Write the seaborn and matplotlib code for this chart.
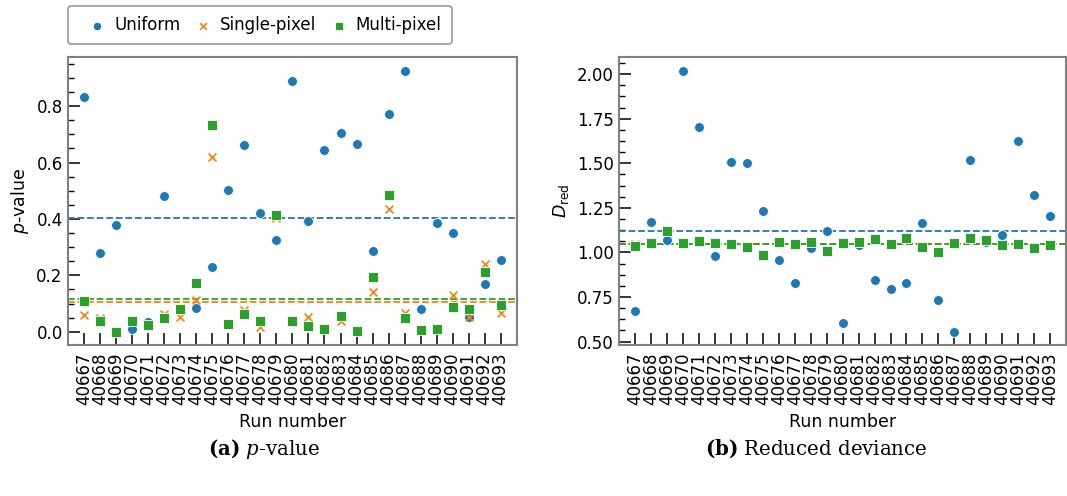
import numpy as np
import pandas as pd
import matplotlib
matplotlib.use("Agg")
import matplotlib.pyplot as plt
import seaborn as sns
from matplotlib.ticker import AutoMinorLocator, MultipleLocator

# Run numbers of the analysed observations
runs = [str(r) for r in range(40667, 40694)]
models = ["Uniform", "Single-pixel", "Multi-pixel"]

# Goodness-of-fit p-values per run
pval_uniform = [0.833, 0.279, 0.379, 0.008, 0.034, 0.481, 0.082, 0.083, 0.228,
                0.504, 0.663, 0.422, 0.325, 0.890, 0.394, 0.643, 0.703, 0.664,
                0.287, 0.773, 0.926, 0.079, 0.387, 0.350, 0.051, 0.169, 0.254]
pval_single = [0.058, 0.047, 0.000, 0.038, 0.024, 0.062, 0.053, 0.112, 0.618,
               0.026, 0.077, 0.016, 0.405, 0.038, 0.053, 0.008, 0.039, 0.004,
               0.140, 0.434, 0.065, 0.006, 0.011, 0.129, 0.051, 0.239, 0.066]
pval_multi = [0.110, 0.038, 0.000, 0.038, 0.024, 0.048, 0.079, 0.173, 0.732,
              0.026, 0.062, 0.038, 0.414, 0.038, 0.021, 0.008, 0.056, 0.004,
              0.194, 0.485, 0.049, 0.006, 0.011, 0.087, 0.079, 0.212, 0.096]

# Reduced deviance per run
dred_uniform = [0.672, 1.171, 1.068, 2.019, 1.702, 0.978, 1.505, 1.504, 1.233,
                0.959, 0.828, 1.026, 1.122, 0.606, 1.040, 0.845, 0.794, 0.828,
                1.163, 0.732, 0.555, 1.516, 1.058, 1.098, 1.627, 1.321, 1.203]
dred_single = [1.045, 1.058, 1.118, 1.055, 1.062, 1.051, 1.047, 1.030, 0.990,
               1.058, 1.047, 1.062, 1.006, 1.055, 1.052, 1.075, 1.049, 1.083,
               1.028, 1.002, 1.051, 1.079, 1.071, 1.039, 1.050, 1.025, 1.047]
dred_multi = [1.038, 1.055, 1.118, 1.055, 1.062, 1.051, 1.045, 1.030, 0.983,
              1.058, 1.047, 1.056, 1.006, 1.055, 1.060, 1.075, 1.049, 1.083,
              1.028, 1.002, 1.051, 1.079, 1.071, 1.039, 1.045, 1.025, 1.042]

frames = []
for name, pv, dr in zip(models,
                        [pval_uniform, pval_single, pval_multi],
                        [dred_uniform, dred_single, dred_multi]):
    frames.append(pd.DataFrame({"idx": np.arange(len(runs)), "run": runs,
                                "model": name, "pvalue": pv, "dred": dr}))
df = pd.concat(frames, ignore_index=True)

sns.set_theme(style="white")
plt.rcParams["font.family"] = ["DejaVu Sans"]
plt.rcParams["mathtext.fontset"] = "dejavusans"
for key in ["text.color", "axes.labelcolor", "xtick.color", "ytick.color"]:
    plt.rcParams[key] = "black"

palette = {"Uniform": "#1f77b4", "Single-pixel": "#ff7f0e", "Multi-pixel": "#2ca02c"}
marks = {"Uniform": "o", "Single-pixel": "x", "Multi-pixel": "s"}
sizes = {"Uniform": 50, "Single-pixel": 32, "Multi-pixel": 46}

fig = plt.figure(figsize=(10.67, 4.96), dpi=100)
ax0 = fig.add_axes([0.0640, 0.3050, 0.4202, 0.5794])
ax1 = fig.add_axes([0.5804, 0.3050, 0.4187, 0.5794])

for ax, col in [(ax0, "pvalue"), (ax1, "dred")]:
    for name in models:
        sub = df[df["model"] == name]
        kw = dict(edgecolor="white", linewidth=0.6) if marks[name] != "x" else dict(linewidth=1.2)
        sns.scatterplot(data=sub, x="idx", y=col, ax=ax, color=palette[name],
                        marker=marks[name], s=sizes[name], label=name,
                        zorder=3, **kw)
        ax.axhline(sub[col].mean(), color=palette[name], ls="--", lw=1.3, zorder=2)
    ax.set_xlim(-1, 27)
    ax.set_xticks(np.arange(len(runs)))
    ax.set_xticklabels(runs, rotation=90)
    ax.set_xlabel("Run number", fontsize=12.5, labelpad=5.5)
    ax.yaxis.set_minor_locator(AutoMinorLocator(4))
    ax.tick_params(axis="both", which="major", direction="in", length=8.6,
                   width=1.1, color="black", labelsize=12, bottom=True, left=True,
                   pad=4)
    ax.tick_params(axis="x", which="major", labelsize=12, pad=5.5)
    ax.tick_params(axis="y", which="minor", direction="in", length=4.6,
                   width=1.0, color="black", left=True)
    for sp in ax.spines.values():
        sp.set_color("#808080")
        sp.set_linewidth(1.5)
    ax.get_legend().remove()

ax0.set_ylim(-0.046, 0.973)
ax0.yaxis.set_major_locator(MultipleLocator(0.2))
ax0.set_ylabel(r"$p$-value", fontsize=12.5)

ax1.set_ylim(0.482, 2.094)
ax1.yaxis.set_major_locator(MultipleLocator(0.25))
ax1.set_ylabel(r"$D_{\mathrm{red}}$", fontsize=12.5)

handles, labels = ax0.get_legend_handles_labels()
leg = fig.legend(handles[:3], labels[:3], loc="upper left",
                 bbox_to_anchor=(68 / 1067, 1 - 6 / 496), ncol=3, fontsize=12,
                 frameon=True, borderaxespad=0, markerscale=0.85,
                 handletextpad=-0.08, columnspacing=0.22, handlelength=2.24,
                 borderpad=0.6)
leg.get_frame().set_edgecolor("#808080")
leg.get_frame().set_linewidth(1.2)

fig.text(264 / 1067, 1 - 449 / 496, r"$\mathbf{(a)}$ $p$-value",
         family="DejaVu Serif", math_fontfamily="dejavuserif", fontsize=14.2,
         ha="center", va="center")
fig.text(816 / 1067, 1 - 449 / 496, r"$\mathbf{(b)}$ Reduced deviance",
         family="DejaVu Serif", math_fontfamily="dejavuserif", fontsize=14.2,
         ha="center", va="center")

fig.savefig("out.png", dpi=100)
